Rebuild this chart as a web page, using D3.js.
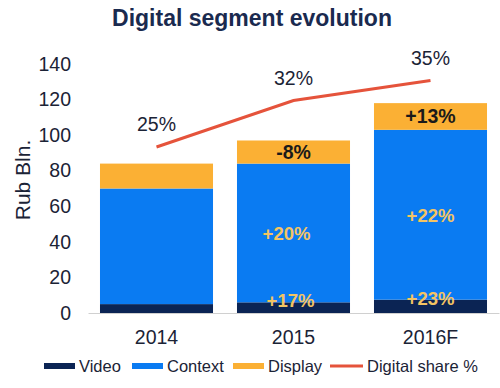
<!DOCTYPE html>
<html>
<head>
<meta charset="utf-8">
<script src="https://cdn.jsdelivr.net/npm/d3@7"></script>
<style>
  body { margin: 0; background: #fff; }
  text { font-family: "Liberation Sans", Arial, sans-serif; }
</style>
</head>
<body>
<svg id="chart" width="500" height="388"></svg>
<script>
let years = ["2014", "2015", "2016F"];
let video = [5, 6, 7.5];
let context = [65, 78, 95.5];
let display = [14, 13, 15];
let share = [25, 32, 35];
let shareLabels = ["25%", "32%", "35%"];
let videoGrowth = ["", "+17%", "+23%"];
let contextGrowth = ["", "+20%", "+22%"];
let displayGrowth = ["", "-8%", "+13%"];
let yTicks = [0, 20, 40, 60, 80, 100, 120, 140];

let colors = { Video: "#0b2454", Context: "#0a7bf2", Display: "#fbb034" };
let lineColor = "#e5533b";
let textColor = "#1b2336";

let svg = d3.select("#chart");

let x = d3.scaleBand().domain(years).range([88, 499]).paddingInner(0.175).paddingOuter(0.0875);
let y = d3.scaleLinear().domain([0, 140]).range([313, 64]);
let y2 = d3.scaleLinear().domain([0, 37.5]).range([313, 64]);

// title
svg.append("text")
    .attr("x", 252).attr("y", 26)
    .attr("text-anchor", "middle")
    .attr("font-size", 23).attr("font-weight", "bold")
    .attr("fill", "#1a2a4f")
    .text("Digital segment evolution");

// y axis labels (no line)
let yAxis = svg.append("g")
    .attr("transform", "translate(71,0)")
    .call(d3.axisLeft(y).tickValues(yTicks).tickSize(0).tickPadding(0));
yAxis.select(".domain").remove();
yAxis.selectAll("text")
    .attr("font-size", 19.5)
    .attr("fill", textColor)
    .style("font-family", "Liberation Sans, Arial, sans-serif");

svg.append("text")
    .attr("transform", "translate(30,180) rotate(-90)")
    .attr("text-anchor", "middle")
    .attr("font-size", 21)
    .attr("fill", textColor)
    .text("Rub Bln.");

// stacked bars
let rows = years.map((yr, i) => ({ year: yr, Video: video[i], Context: context[i], Display: display[i] }));
let stack = d3.stack().keys(["Video", "Context", "Display"]);
let series = stack(rows);

svg.append("g")
    .selectAll("g")
    .data(series)
    .enter()
    .append("g")
    .attr("fill", (s) => colors[s.key])
    .selectAll("rect")
    .data((s) => s)
    .enter()
    .append("rect")
    .attr("x", (d) => x(d.data.year))
    .attr("y", (d) => y(d[1]))
    .attr("width", x.bandwidth())
    .attr("height", (d) => y(d[0]) - y(d[1]));

// x axis line
let xAxis = svg.append("g")
    .attr("transform", "translate(0,313)")
    .call(d3.axisBottom(x).tickSize(0).tickPadding(17));
xAxis.select(".domain").attr("stroke", "#d0d0d0").attr("stroke-width", 1);
xAxis.selectAll("text")
    .attr("font-size", 19.5)
    .attr("fill", textColor)
    .style("font-family", "Liberation Sans, Arial, sans-serif");

// growth labels
let cx = (i) => x(years[i]) + x.bandwidth() / 2;
years.forEach((yr, i) => {
    let s = series;
    if (displayGrowth[i]) {
        svg.append("text")
            .attr("x", cx(i)).attr("y", (y(s[2][i][0]) + y(s[2][i][1])) / 2 + 7)
            .attr("text-anchor", "middle")
            .attr("font-size", 19.5).attr("font-weight", "bold")
            .attr("fill", "#1a1a1a")
            .text(displayGrowth[i]);
    }
    if (contextGrowth[i]) {
        svg.append("text")
            .attr("x", cx(i) - (i === 1 ? 7 : 0)).attr("y", (y(s[1][i][0]) + y(s[1][i][1])) / 2 + 7)
            .attr("text-anchor", "middle")
            .attr("font-size", 18.5).attr("font-weight", "bold")
            .attr("fill", "#f3c463")
            .text(contextGrowth[i]);
    }
    if (videoGrowth[i]) {
        svg.append("text")
            .attr("x", cx(i) - (i === 1 ? 3 : 0)).attr("y", y(s[0][i][1]) + 5)
            .attr("text-anchor", "middle")
            .attr("font-size", 18.5).attr("font-weight", "bold")
            .attr("fill", "#f3c463")
            .text(videoGrowth[i]);
    }
});

// digital share line
let line = d3.line()
    .x((d, i) => cx(i))
    .y((d) => y2(d));
svg.append("path")
    .datum(share)
    .attr("d", line)
    .attr("fill", "none")
    .attr("stroke", lineColor)
    .attr("stroke-width", 3);

svg.selectAll(".share-label")
    .data(share)
    .enter()
    .append("text")
    .attr("x", (d, i) => cx(i))
    .attr("y", (d) => y2(d) - 16)
    .attr("text-anchor", "middle")
    .attr("font-size", 19.5)
    .attr("fill", textColor)
    .text((d, i) => shareLabels[i]);

// legend
let legendItems = [
    { name: "Video", x: 44, type: "rect", color: colors.Video },
    { name: "Context", x: 132, type: "rect", color: colors.Context },
    { name: "Display", x: 233, type: "rect", color: colors.Display },
    { name: "Digital share %", x: 330, type: "line", color: lineColor }
];
let legend = svg.append("g").attr("transform", "translate(0,366)");
legendItems.forEach((item) => {
    if (item.type === "rect") {
        legend.append("rect")
            .attr("x", item.x).attr("y", -3)
            .attr("width", 31).attr("height", 6)
            .attr("fill", item.color);
    } else {
        legend.append("line")
            .attr("x1", item.x).attr("x2", item.x + 33)
            .attr("y1", 0).attr("y2", 0)
            .attr("stroke", item.color).attr("stroke-width", 3);
    }
    legend.append("text")
        .attr("x", item.x + (item.type === "rect" ? 35 : 37)).attr("y", 6)
        .attr("font-size", 16.5)
        .attr("fill", textColor)
        .text(item.name);
});
</script>
</body>
</html>
